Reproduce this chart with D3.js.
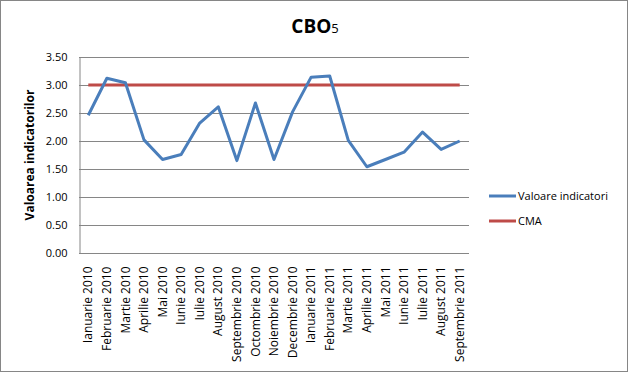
<!DOCTYPE html>
<html lang="ro">
<head>
<meta charset="utf-8">
<title>CBO5</title>
<script src="https://cdn.jsdelivr.net/npm/d3@7"></script>
<style>
  body { margin: 0; background: #fff; }
  text { font-family: "Open Sans", "Liberation Sans", sans-serif; }
</style>
</head>
<body>
<script>
// categories (months)
var months = ["Ianuarie 2010", "Februarie 2010", "Martie 2010", "Aprilie 2010", "Mai 2010",
  "Iunie 2010", "Iulie 2010", "August 2010", "Septembrie 2010", "Octombrie 2010",
  "Noiembrie 2010", "Decembrie 2010", "Ianuarie 2011", "Februarie 2011", "Martie 2011",
  "Aprilie 2011", "Mai 2011", "Iunie 2011", "Iulie 2011", "August 2011", "Septembrie 2011"];

// series values
var valoare = [2.46, 3.12, 3.04, 2.02, 1.67, 1.76, 2.32, 2.61, 1.65, 2.68,
  1.67, 2.52, 3.14, 3.16, 2.01, 1.54, 1.67, 1.80, 2.16, 1.85, 2.00];
var cma = [3, 3, 3, 3, 3, 3, 3, 3, 3, 3, 3, 3, 3, 3, 3, 3, 3, 3, 3, 3, 3];

var yTicks = [0, 0.5, 1, 1.5, 2, 2.5, 3, 3.5];

var W = 630, H = 375;
var plotL = 79, plotR = 469, plotT = 57, plotB = 253;

var svg = d3.select("body").append("svg")
  .attr("width", W).attr("height", H);

// chart border
svg.append("rect")
  .attr("x", 0.5).attr("y", 0.5)
  .attr("width", 627).attr("height", 371)
  .attr("fill", "#fff").attr("stroke", "#868686");

var x = d3.scaleBand().domain(months).range([plotL, plotR]);
var y = d3.scaleLinear().domain([0, 3.5]).range([plotB, plotT]);

// gridlines
svg.append("g")
  .selectAll("line")
  .data(yTicks)
  .enter().append("line")
  .attr("x1", plotL).attr("x2", plotR)
  .attr("y1", function(d) { return Math.round(y(d)) + 0.5; })
  .attr("y2", function(d) { return Math.round(y(d)) + 0.5; })
  .attr("stroke", "#868686");

// y axis
var yAxis = svg.append("g")
  .attr("transform", "translate(" + (plotL + 0.5) + ",0)")
  .call(d3.axisLeft(y).tickValues(yTicks).tickSize(0).tickPadding(12)
    .tickFormat(d3.format(".2f")));
yAxis.select(".domain").attr("stroke", "#868686");
yAxis.selectAll("text").attr("font-size", "11px").attr("fill", "#000")
  .style("font-family", "'Open Sans', sans-serif");

// x axis
var xAxis = svg.append("g")
  .attr("transform", "translate(0," + (Math.round(plotB) + 0.5) + ")")
  .call(d3.axisBottom(x).tickSize(0).tickPadding(0));
xAxis.select(".domain").remove();
xAxis.selectAll("text")
  .attr("font-size", "12px").attr("fill", "#000")
  .attr("text-anchor", "end")
  .attr("dy", "0.35em")
  .attr("transform", "translate(0,13) rotate(-90)");

var line = d3.line()
  .x(function(d, i) { return x(months[i]) + x.bandwidth() / 2; })
  .y(function(d) { return y(d); });

svg.append("path")
  .datum(cma)
  .attr("d", line)
  .attr("fill", "none")
  .attr("stroke", "#BE4B48")
  .attr("stroke-width", 3);

svg.append("path")
  .datum(valoare)
  .attr("d", line)
  .attr("fill", "none")
  .attr("stroke", "#4A7EBB")
  .attr("stroke-width", 3)
  .attr("stroke-linejoin", "round");

// title
var title = svg.append("text")
  .attr("x", 315).attr("y", 33)
  .attr("text-anchor", "middle")
  .attr("font-size", "19px").attr("font-weight", "bold");
title.append("tspan").text("CBO");
title.append("tspan").attr("font-size", "13px").attr("font-weight", "normal").text("5");

// y axis title
svg.append("text")
  .attr("transform", "translate(30,155) rotate(-90)")
  .attr("text-anchor", "middle")
  .attr("dy", "0.35em")
  .attr("font-size", "12px").attr("font-weight", "bold")
  .text("Valoarea indicatorilor");

// legend
var legend = [["Valoare indicatori", "#4A7EBB"], ["CMA", "#BE4B48"]];
var lg = svg.append("g").selectAll("g")
  .data(legend)
  .enter().append("g")
  .attr("transform", function(d, i) { return "translate(489," + (196 + i * 25) + ")"; });
lg.append("line")
  .attr("x1", 0).attr("x2", 27)
  .attr("stroke", function(d) { return d[1]; })
  .attr("stroke-width", 3);
lg.append("text")
  .attr("x", 29).attr("dy", "0.35em")
  .attr("font-size", "11px")
  .text(function(d) { return d[0]; });
</script>
</body>
</html>
